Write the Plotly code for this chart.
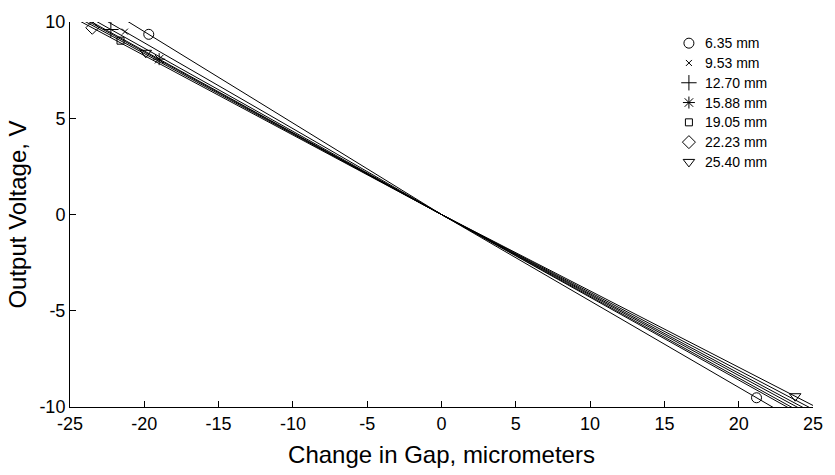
import plotly.graph_objects as go

# Target sizes tested
target_sizes = ["6.35 mm", "9.53 mm", "12.70 mm", "15.88 mm", "19.05 mm", "22.23 mm", "25.40 mm"]
marker_symbols = ["circle-open", "x-thin-open", "cross-thin-open", "asterisk-open",
                  "square-open", "diamond-open", "triangle-down-open"]
marker_sizes = [10, 6, 11, 10, 7, 10, 10]

# Calibration lines: output voltage at gap change of -25, 0 and +25 micrometers
line_gap = [-25, 0, 25]
line_v_635 = [11.875, 0, -11.225]
line_v_953 = [11.15, 0, -10.75]
line_v_1270 = [10.80, 0, -10.62]
line_v_1588 = [10.62, 0, -10.45]
line_v_1905 = [10.45, 0, -10.30]
line_v_2223 = [10.32, 0, -10.12]
line_v_2540 = [10.55, 0, -9.92]

# Measured end points (gap change in micrometers, output in volts)
pts_gap_635 = [-19.7, 21.2]
pts_v_635 = [9.36, -9.52]
pts_gap_953 = [-21.3]
pts_v_953 = [9.50]
pts_gap_1270 = [-22.25]
pts_v_1270 = [9.61]
pts_gap_1588 = [-19.0]
pts_v_1588 = [8.07]
pts_gap_1905 = [-21.6]
pts_v_1905 = [9.03]
pts_gap_2223 = [-23.5]
pts_v_2223 = [9.70]
pts_gap_2540 = [-19.9, 23.8]
pts_v_2540 = [8.40, -9.44]

x_ticks = [-25, -20, -15, -10, -5, 0, 5, 10, 15, 20, 25]
x_tick_text = ["-25", "-20", "-15", "-10", "-5", "0", "5", "10", "15", "20", "25"]
y_ticks = [-10, -5, 0, 5, 10]
y_tick_text = ["-10", "-5", "0", "5", "10"]

lines = [line_v_635, line_v_953, line_v_1270, line_v_1588, line_v_1905, line_v_2223, line_v_2540]
pts_gap = [pts_gap_635, pts_gap_953, pts_gap_1270, pts_gap_1588, pts_gap_1905, pts_gap_2223, pts_gap_2540]
pts_v = [pts_v_635, pts_v_953, pts_v_1270, pts_v_1588, pts_v_1905, pts_v_2223, pts_v_2540]

FONT = "Liberation Sans, Arial, Helvetica, sans-serif"

# Key box placement, as fractions of the plotting area
KEY_SYMBOL_X = 0.833
KEY_TEXT_X = 0.852
KEY_TOP_Y = 0.945
KEY_ROW_STEP = 0.0514

fig = go.Figure()

for v in lines:
    fig.add_trace(go.Scatter(
        x=line_gap, y=v, mode="lines",
        line=dict(color="black", width=1),
        showlegend=False, hoverinfo="skip",
    ))

for name, sym, size, gx, gy in zip(target_sizes, marker_symbols, marker_sizes, pts_gap, pts_v):
    fig.add_trace(go.Scatter(
        x=gx, y=gy, mode="markers", name=name,
        marker=dict(symbol=sym, size=size, color="black",
                    line=dict(color="black", width=1)),
        showlegend=False,
    ))

# Key: one symbol and label per target size, drawn on an overlay axis spanning the plot area
for i, (name, sym, size) in enumerate(zip(target_sizes, marker_symbols, marker_sizes)):
    row_y = KEY_TOP_Y - i * KEY_ROW_STEP
    fig.add_trace(go.Scatter(
        x=[KEY_SYMBOL_X], y=[row_y], xaxis="x2", yaxis="y2",
        mode="markers", name=name, showlegend=False, hoverinfo="skip",
        marker=dict(symbol=sym, size=size, color="black",
                    line=dict(color="black", width=1)),
    ))
    fig.add_annotation(
        x=KEY_TEXT_X, y=row_y, xref="x2", yref="y2",
        text=name, showarrow=False, xanchor="left", yanchor="middle",
        font=dict(family=FONT, size=14, color="black"),
    )

fig.update_layout(
    width=835, height=475,
    margin=dict(l=70, r=15, t=16, b=66),
    paper_bgcolor="white", plot_bgcolor="white",
    font=dict(family=FONT, size=18, color="black"),
    showlegend=False,
    xaxis=dict(
        range=[-25, 25], tickvals=x_ticks, ticktext=x_tick_text,
        ticks="inside", ticklen=6, tickcolor="black", tickwidth=1,
        showline=True, linecolor="black", linewidth=1,
        showgrid=False, zeroline=False,
        title=dict(text="Change in Gap, micrometers", standoff=13, font=dict(size=24)),
        tickfont=dict(size=18),
    ),
    yaxis=dict(
        range=[-10, 10], tickvals=y_ticks, ticktext=y_tick_text,
        ticks="inside", ticklen=6, tickcolor="black", tickwidth=1,
        showline=True, linecolor="black", linewidth=1,
        showgrid=False, zeroline=False,
        title=dict(text="Output Voltage, V", standoff=5, font=dict(size=24)),
        tickfont=dict(size=18),
    ),
    xaxis2=dict(overlaying="x", range=[0, 1], visible=False, fixedrange=True),
    yaxis2=dict(overlaying="y", range=[0, 1], visible=False, fixedrange=True),
)

fig.write_html("out.html")
